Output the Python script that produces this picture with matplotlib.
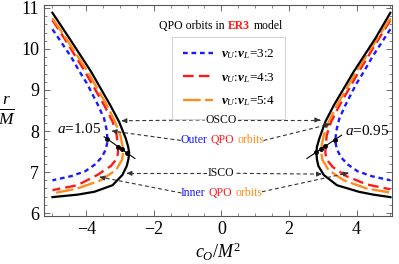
import numpy as np
import matplotlib
matplotlib.use("Agg")
import matplotlib.pyplot as plt
from matplotlib.offsetbox import TextArea, HPacker, AnnotationBbox
from matplotlib.lines import Line2D

plt.rcParams['font.family'] = ['Liberation Serif', 'DejaVu Serif']
plt.rcParams['mathtext.fontset'] = 'custom'
plt.rcParams['mathtext.rm'] = 'Liberation Serif'
plt.rcParams['mathtext.it'] = 'Liberation Serif:italic'
plt.rcParams['mathtext.bf'] = 'Liberation Serif:bold:italic'

# ---------------- data (c_O/M^2, r/M) ----------------
# a = 1.05 (left side)
black_L_c = [-5.0, -4.5, -3.86, -3.29, -3.03, -2.83, -2.76, -2.73, -2.75, -2.80, -2.93, -3.22, -3.76, -4.26, -5.0]
black_L_r = [10.88, 10.26, 9.45, 8.63, 8.23, 7.82, 7.62, 7.48, 7.32, 7.15, 6.93, 6.68, 6.52, 6.45, 6.39]
orange_L_c = [-5.0, -4.6, -3.96, -3.39, -3.15, -2.99, -2.93, -2.91, -2.94, -3.12, -3.57, -4.26, -5.0]
orange_L_r = [10.75, 10.26, 9.45, 8.63, 8.23, 7.9, 7.65, 7.46, 7.3, 7.05, 6.80, 6.6, 6.48]
red_L_c = [-5.0, -4.65, -4.04, -3.47, -3.22, -3.10, -3.06, -3.06, -3.10, -3.27, -3.67, -4.26, -5.0]
red_L_r = [10.70, 10.26, 9.45, 8.63, 8.23, 7.9, 7.62, 7.47, 7.32, 7.15, 6.93, 6.68, 6.56]
blue_L_c = [-5.0, -4.45, -4.2, -3.98, -3.65, -3.47, -3.39, -3.37, -3.42, -3.55, -3.75, -4.03, -4.45, -5.0]
blue_L_r = [10.48, 9.81, 9.45, 9.16, 8.63, 8.3, 8.0, 7.75, 7.55, 7.35, 7.18, 7.02, 6.9, 6.80]
# a = 0.95 (right side)
black_R_c = [5.0, 4.56, 3.92, 3.33, 3.08, 2.90, 2.83, 2.81, 2.83, 2.87, 3.03, 3.42, 4.07, 4.5, 5.0]
black_R_r = [10.88, 10.26, 9.45, 8.63, 8.23, 7.82, 7.62, 7.48, 7.3, 7.15, 6.93, 6.68, 6.52, 6.45, 6.39]
orange_R_c = [5.0, 4.62, 4.0, 3.42, 3.18, 3.03, 2.97, 2.96, 2.99, 3.17, 3.62, 4.3, 5.0]
orange_R_r = [10.75, 10.26, 9.45, 8.63, 8.23, 7.9, 7.65, 7.46, 7.3, 7.05, 6.80, 6.6, 6.5]
red_R_c = [5.0, 4.67, 4.07, 3.5, 3.25, 3.12, 3.08, 3.08, 3.12, 3.3, 3.7, 4.3, 5.0]
red_R_r = [10.70, 10.26, 9.45, 8.63, 8.23, 7.9, 7.6, 7.45, 7.3, 7.12, 6.9, 6.7, 6.58]
blue_R_c = [5.0, 4.47, 4.22, 4.0, 3.67, 3.49, 3.40, 3.37, 3.42, 3.55, 3.75, 4.03, 4.45, 5.0]
blue_R_r = [10.48, 9.81, 9.45, 9.16, 8.63, 8.3, 8.0, 7.75, 7.55, 7.35, 7.18, 7.02, 6.9, 6.80]

# spin-marker lines and dots
spin_L_c = [-3.47, -2.56]
spin_L_r = [7.86, 7.33]
dots_L_c = [-3.39, -3.06, -2.93, -2.78]
dots_L_r = [7.81, 7.62, 7.55, 7.46]
spin_R_c = [2.53, 3.56]
spin_R_r = [7.33, 7.90]
dots_R_c = [2.80, 2.96, 3.08, 3.37]
dots_R_r = [7.48, 7.57, 7.63, 7.79]

legend_labels = [r'$\mathbf{\nu}_{\mathit{U}}$:$\mathbf{\nu}_{\mathit{L}}$=3:2',
                 r'$\mathbf{\nu}_{\mathit{U}}$:$\mathbf{\nu}_{\mathit{L}}$=4:3',
                 r'$\mathbf{\nu}_{\mathit{U}}$:$\mathbf{\nu}_{\mathit{L}}$=5:4']
x_ticks = [-4, -2, 0, 2, 4]
y_ticks = [6, 7, 8, 9, 10, 11]

# annotation arrows: (start, tip)
osco_arrows = [((-0.45, 8.27), (-2.95, 8.25)), ((0.45, 8.27), (2.92, 8.27))]
isco_arrows = [((-0.42, 6.97), (-2.80, 6.97)), ((0.45, 6.97), (2.97, 6.95))]
outer_arrows = [((-1.2, 7.77), (-3.24, 8.0)), ((1.25, 7.77), (3.22, 8.17))]
inner_arrows = [((-1.18, 6.49), (-3.60, 6.88)), ((1.2, 6.52), (3.76, 6.98))]

# ---------------- figure ----------------
fig = plt.figure(figsize=(3.99, 2.64), dpi=100)
ax = fig.add_axes([44/399, 1-216/264, 348/399, 211/264])

BLUE, RED, ORANGE = '#1a1aff', '#ff1a1a', '#ff8c1a'
ax.plot(blue_L_c, blue_L_r, color=BLUE, lw=1.7, dashes=(2.0, 1.6))
ax.plot(red_L_c, red_L_r, color=RED, lw=1.7, dashes=(4.5, 2.2))
ax.plot(orange_L_c, orange_L_r, color=ORANGE, lw=1.7, dashes=(7.5, 1.8))
ax.plot(black_L_c, black_L_r, color='black', lw=1.6)
ax.plot(blue_R_c, blue_R_r, color=BLUE, lw=1.7, dashes=(2.0, 1.6))
ax.plot(red_R_c, red_R_r, color=RED, lw=1.7, dashes=(4.5, 2.2))
ax.plot(orange_R_c, orange_R_r, color=ORANGE, lw=1.7, dashes=(7.5, 1.8))
ax.plot(black_R_c, black_R_r, color='black', lw=1.6)

ax.plot(spin_L_c, spin_L_r, color='black', lw=0.8)
ax.plot(spin_R_c, spin_R_r, color='black', lw=0.8)
ax.plot(dots_L_c, dots_L_r, 'o', color='black', ms=2.5, ls='none')
ax.plot(dots_R_c, dots_R_r, 'o', color='black', ms=2.5, ls='none')

ax.text(-4.2, 8.04, r'$a$=1.05', ha='center', va='center', fontsize=11)
ax.text(4.30, 8.0, r'$a$=0.95', ha='center', va='center', fontsize=11)

ACOL = '#333333'
def dashed_arrow(start, tip):
    ax.plot([start[0], tip[0]], [start[1], tip[1]], color=ACOL, lw=0.8, dashes=(3.5, 2.5))
    d = np.array(tip) - np.array(start)
    back = np.array(tip) - d / np.hypot(*d) * 0.05
    ax.annotate('', xy=tip, xytext=tuple(back),
                arrowprops=dict(arrowstyle='-|>', color=ACOL, lw=0.8,
                                mutation_scale=7, shrinkA=0, shrinkB=0))

for s, t in osco_arrows + isco_arrows + outer_arrows + inner_arrows:
    dashed_arrow(s, t)

wbox = dict(boxstyle='square,pad=0.05', fc='white', ec='none')
ax.text(0.0, 8.27, 'OSCO', ha='center', va='center', fontsize=8.5, color='#111111',
        bbox=wbox, zorder=7)
ax.text(0.0, 6.97, 'ISCO', ha='center', va='center', fontsize=8.5, color='#111111',
        bbox=wbox, zorder=7)

def multi_text(parts, xy, coords='data', fontsize=8.5):
    boxes = []
    for t, c in parts:
        boxes.append(TextArea(t, textprops=dict(color=c, fontsize=fontsize,
                                                fontweight='bold' if t == 'ER3' else 'normal',
                                                family=['Liberation Serif', 'DejaVu Serif'])))
    pack = HPacker(children=boxes, align='baseline', pad=0, sep=2.5)
    ab = AnnotationBbox(pack, xy, xycoords=coords, frameon=False, box_alignment=(0.5, 0.5))
    ab.set_zorder(7)
    ax.add_artist(ab)

multi_text([('Outer', BLUE), ('QPO', RED), ('orbits', ORANGE)], (0.03, 7.77))
multi_text([('Inner', BLUE), ('QPO', RED), ('orbits', ORANGE)], (0.0, 6.50))
multi_text([('QPO orbits in', 'black'), ('ER3', RED), ('model', 'black')], (0.509, 0.90),
           coords='axes fraction')

handles = [Line2D([], [], color=BLUE, lw=1.7, dashes=(2.0, 1.6)),
           Line2D([], [], color=RED, lw=1.7, dashes=(4.5, 2.2)),
           Line2D([], [], color=ORANGE, lw=1.7, dashes=(7.5, 1.8))]
leg = ax.legend(handles, legend_labels, loc='upper left', bbox_to_anchor=(0.368, 0.848),
                frameon=True, fancybox=False, edgecolor='#cccccc', fontsize=9.5,
                handlelength=2.3, labelspacing=0.72, borderpad=0.8, handletextpad=0.6,
                borderaxespad=0, framealpha=1)
leg.get_frame().set_linewidth(0.6)

ax.set_xlim(-5.25, 5.05)
ax.set_ylim(5.93, 11.07)
ax.set_xticks(x_ticks)
ax.set_yticks(y_ticks)
ax.set_xticks(np.arange(-5, 5.01, 0.5), minor=True)
ax.set_yticks(np.arange(6, 11.01, 0.2), minor=True)
ax.tick_params(which='both', direction='in', top=True, right=True, colors='#555555',
               labelcolor='black', labelsize=13)
ax.tick_params(which='major', length=4, width=0.6)
ax.tick_params(which='minor', length=2.2, width=0.5)
for sp in ax.spines.values():
    sp.set_color('#555555')
    sp.set_linewidth(0.8)

ax.set_xlabel(r'$c_O/M^2$', fontsize=13, labelpad=2)
ax.set_ylabel(r'$\frac{r}{M}$', fontsize=18, rotation=0, labelpad=10, va='center')

fig.savefig('out.png', dpi=100)
